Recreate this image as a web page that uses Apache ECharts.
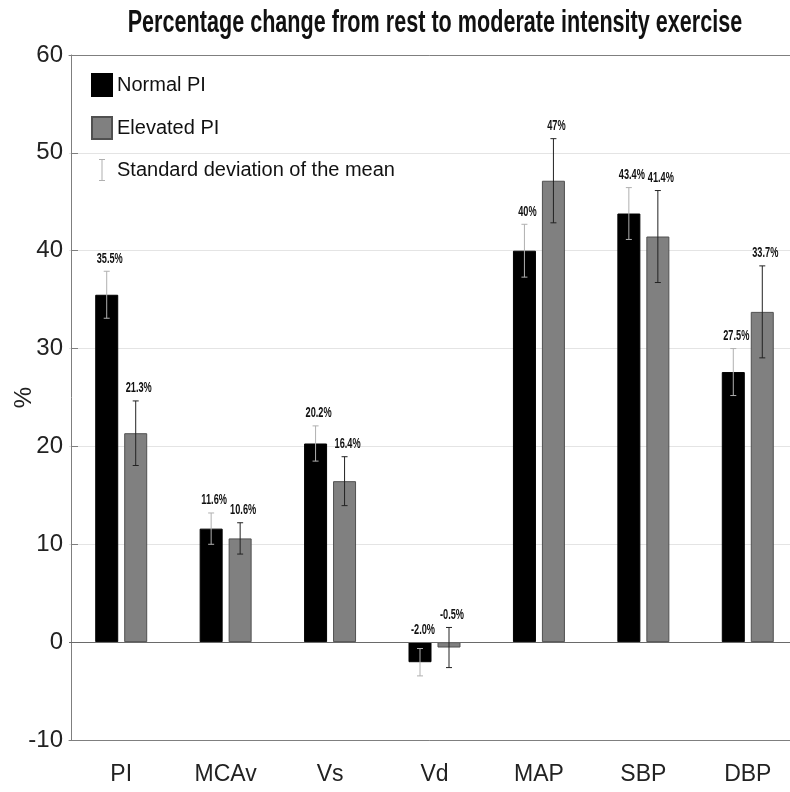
<!DOCTYPE html>
<html>
<head>
<meta charset="utf-8">
<script src="https://cdn.jsdelivr.net/npm/echarts@6/dist/echarts.min.js"></script>
<style>
  html, body { margin: 0; padding: 0; background: #fff; }
  #chart { width: 790px; height: 792px; }
</style>
</head>
<body>
<div id="chart"></div>
<script>
const categories = ["PI", "MCAv", "Vs", "Vd", "MAP", "SBP", "DBP"];
const normalMean = [35.5, 11.6, 20.3, -2.05, 40.0, 43.8, 27.6];
const normalSd = [2.4, 1.6, 1.8, 1.4, 2.7, 2.65, 2.4];
const normalLabels = ["35.5%", "11.6%", "20.2%", "-2.0%", "40%", "43.4%", "27.5%"];
const elevatedMean = [21.35, 10.6, 16.45, -0.55, 47.15, 41.45, 33.75];
const elevatedSd = [3.3, 1.6, 2.5, 2.05, 4.3, 4.7, 4.7];
const elevatedLabels = ["21.3%", "10.6%", "16.4%", "-0.5%", "47%", "41.4%", "33.7%"];
const yTicks = { min: -10, max: 60, step: 10 };

const font = '"Liberation Sans", Arial, sans-serif';
const barOffset = 14.5; // half distance between the two bars of a group

function errorSeries(name, mean, sd, labels, shift, color) {
  const data = mean.map((m, i) => [i, m, sd[i], i]);
  return {
    name: name,
    type: "custom",
    itemStyle: { color: color },
    z: 5,
    data: data,
    renderItem: function (params, api) {
      const i = api.value(0);
      const m = api.value(1);
      const s = api.value(2);
      const hi = api.coord([i, m + s]);
      const lo = api.coord([i, m - s]);
      const x = hi[0] + shift;
      const top = api.coord([i, Math.max(m + s, 0)])[1];
      const cap = 3;
      const st = { stroke: color, lineWidth: 1 };
      return {
        type: "group",
        children: [
          { type: "line", shape: { x1: x, y1: hi[1], x2: x, y2: lo[1] }, style: st },
          { type: "line", shape: { x1: x - cap, y1: hi[1], x2: x + cap, y2: hi[1] }, style: st },
          { type: "line", shape: { x1: x - cap, y1: lo[1], x2: x + cap, y2: lo[1] }, style: st },
          {
            type: "text",
            x: x + 3,
            y: top - 5,
            scaleX: 0.8,
            scaleY: 1.25,
            style: {
              text: labels[api.value(3)],
              x: 0, y: 0,
              align: "center",
              verticalAlign: "bottom",
              font: "bold 11.5px " + font,
              fill: "#111"
            }
          }
        ]
      };
    }
  };
}

const chart = echarts.init(document.getElementById("chart"));
const option = {
  animation: false,
  backgroundColor: "#fff",
  graphic: [
    {
      type: "text",
      x: 435,
      y: 39,
      scaleX: 0.8,
      scaleY: 1.15,
      style: {
        text: "Percentage change from rest to moderate intensity exercise",
        align: "center",
        verticalAlign: "bottom",
        font: "bold 27px " + font,
        fill: "#111"
      }
    }
  ],
  legend: {
    orient: "vertical",
    left: 86,
    top: 68,
    itemWidth: 20,
    itemHeight: 22,
    itemGap: 19,
    selectedMode: false,
    textStyle: { fontFamily: font, fontSize: 20, color: "#111" },
    data: [
      { name: "Normal PI", icon: "rect" },
      { name: "Elevated PI", icon: "rect" },
      { name: "Standard deviation of the mean", icon: "path://M0,0H6V1H3.5V21H6V22H0V21H2.5V1H0Z" }
    ]
  },
  grid: { left: 69, right: -10, top: 55, bottom: 52, outerBoundsMode: "none" },
  xAxis: [
    {
      type: "category",
      data: categories,
      position: "bottom",
      axisLine: { onZero: false, lineStyle: { color: "#7f7f7f" } },
      axisTick: { alignWithLabel: true, inside: true, length: 12, lineStyle: { color: "#8a8a8a" } },
      axisLabel: { fontFamily: font, fontSize: 23, color: "#222", margin: 23 }
    },
    {
      type: "category",
      data: categories,
      position: "top",
      axisLine: { onZero: false, lineStyle: { color: "#7f7f7f" } },
      axisTick: { alignWithLabel: true, inside: true, length: 12, lineStyle: { color: "#8a8a8a" } },
      axisLabel: { show: false }
    }
  ],
  yAxis: {
    type: "value",
    min: yTicks.min,
    max: yTicks.max,
    interval: yTicks.step,
    offset: -2,
    name: "%",
    nameLocation: "middle",
    nameGap: 35,
    nameMoveOverlap: false,
    nameRotate: 90,
    nameTextStyle: { fontFamily: font, fontSize: 24, color: "#222" },
    axisLine: { show: true, lineStyle: { color: "#7f7f7f" } },
    axisTick: { show: true, inside: true, length: 7, lineStyle: { color: "#7f7f7f" } },
    axisLabel: { fontFamily: font, fontSize: 24, color: "#222", margin: 8 },
    splitLine: { lineStyle: { color: "#e4e4e4" } }
  },
  series: [
    {
      name: "Normal PI",
      type: "bar",
      data: normalMean,
      barWidth: 23,
      barGap: "26%",
      itemStyle: { color: "#000", borderColor: "#000", borderWidth: 1 },
      markLine: {
        silent: true,
        symbol: "none",
        label: { show: false },
        lineStyle: { color: "#6a6a6a", type: "solid", width: 1.2 },
        data: [{ yAxis: 0 }]
      }
    },
    {
      name: "Elevated PI",
      type: "bar",
      data: elevatedMean,
      barWidth: 23,
      itemStyle: { color: "#808080", borderColor: "#505050", borderWidth: 1 }
    },
    errorSeries("Standard deviation of the mean", normalMean, normalSd, normalLabels, -barOffset, "#b0b0b0"),
    errorSeries("Elevated SD", elevatedMean, elevatedSd, elevatedLabels, barOffset, "#222")
  ]
};
chart.setOption(option);
</script>
</body>
</html>
